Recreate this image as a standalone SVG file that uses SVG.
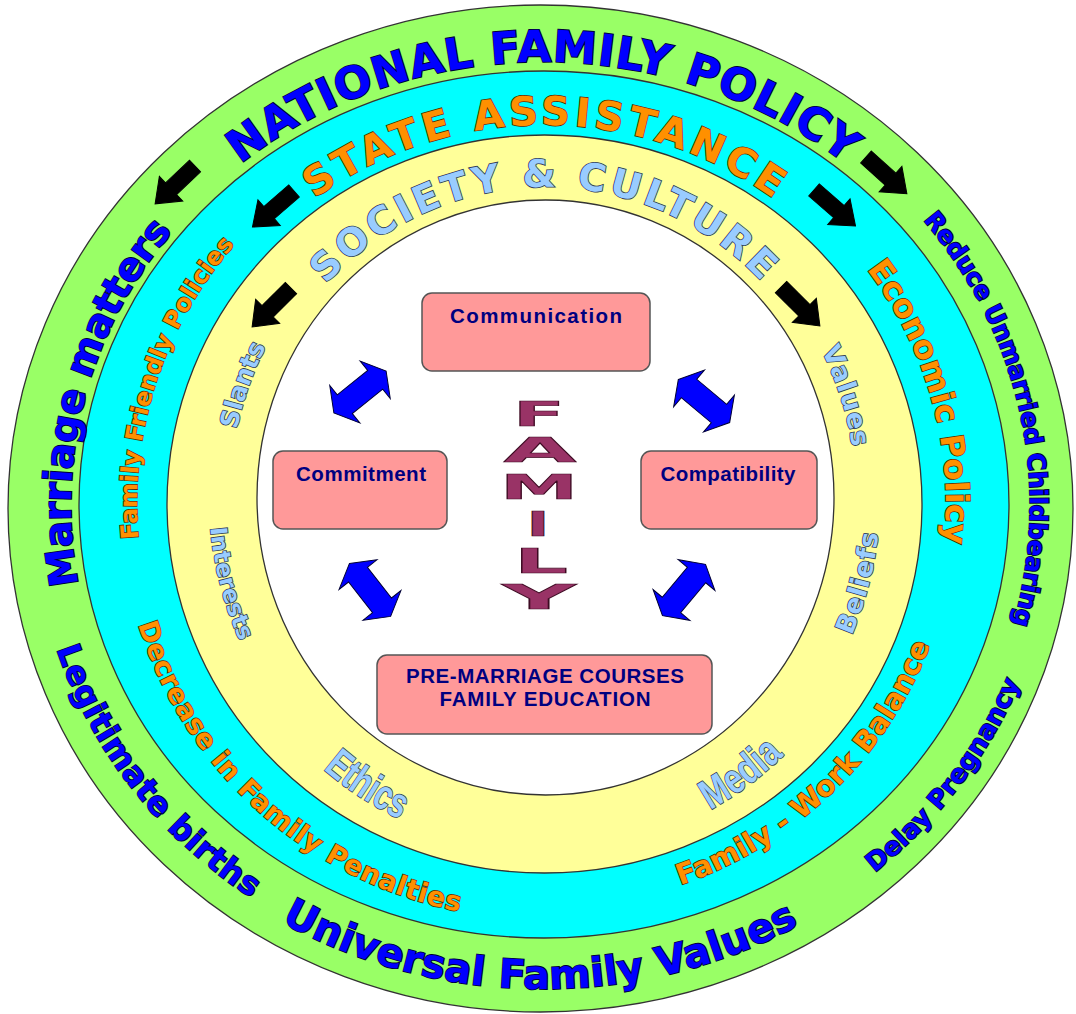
<svg xmlns="http://www.w3.org/2000/svg" xmlns:xlink="http://www.w3.org/1999/xlink" width="1076" height="1014" viewBox="0 0 1076 1014">
<style>
.ring{stroke:#333;stroke-width:1.3}
.t{font-family:"DejaVu Sans",Verdana,sans-serif;font-weight:bold;paint-order:stroke;text-anchor:middle}
.blue{fill:#0000ff;stroke:#000033;stroke-width:1.8}
.orange{fill:#ff9000;stroke:#5a2800;stroke-width:1.5}
.lblue{fill:#99ccff;stroke:#2f3a55;stroke-width:1.6}
.narrow{font-family:"Liberation Sans Narrow","Liberation Sans",Arial,sans-serif}
.box{fill:#ff9999;stroke:#555;stroke-width:1.5}
.bt{font-family:"Liberation Sans",Arial,sans-serif;font-weight:bold;font-size:20.5px;fill:#000080;text-anchor:middle}
.fam{font-family:"DejaVu Sans",Verdana,sans-serif;font-weight:bold;font-size:33px;fill:#993366;stroke:#3d0a22;stroke-width:0.6;text-anchor:middle}
.barrow{fill:#000;stroke:#000;stroke-width:1}
.darrow{fill:#0000ff;stroke:#000033;stroke-width:1}
</style>
<defs>
<path id="pNat" d="M543,948 A474,443 0 0 1 543,62 A474,443 0 0 1 543,948"/>
<path id="pMar" d="M543,946 A472,441 0 0 1 543,64 A472,441 0 0 1 543,946"/>
<path id="pRed" d="M543,961 A487,456 0 0 1 543,49 A487,456 0 0 1 543,961"/>
<path id="pUni" d="M543,21 A515,484 0 0 0 543,989 A515,484 0 0 0 543,21"/>
<path id="pLeg" d="M543,26 A510,479 0 0 0 543,984 A510,479 0 0 0 543,26"/>
<path id="pDel" d="M543,23 A513,482 0 0 0 543,987 A513,482 0 0 0 543,23"/>
<path id="pSta" d="M544,883 A387,379 0 0 1 544,125 A387,379 0 0 1 544,883"/>
<path id="pFfp" d="M544,903 A407,399 0 0 1 544,105 A407,399 0 0 1 544,903"/>
<path id="pEco" d="M544,898 A402,394 0 0 1 544,110 A402,394 0 0 1 544,898"/>
<path id="pFwb" d="M544,100 A412,404 0 0 0 544,908 A412,404 0 0 0 544,100"/>
<path id="pDec" d="M544,88 A424,416 0 0 0 544,920 A424,416 0 0 0 544,88"/>
<path id="pSoc" d="M545,807 A301,310 0 0 1 545,187 A301,310 0 0 1 545,807"/>
<path id="pSla" d="M545,821 A315,324 0 0 1 545,173 A315,324 0 0 1 545,821"/>
<path id="pVal" d="M545,817 A311,320 0 0 1 545,177 A311,320 0 0 1 545,817"/>
<path id="pInt" d="M545,152 A336,345 0 0 0 545,842 A336,345 0 0 0 545,152"/>
<path id="pBel" d="M545,153 A335,344 0 0 0 545,841 A335,344 0 0 0 545,153"/>
<path id="pEth" d="M545,142 A346,355 0 0 0 545,852 A346,355 0 0 0 545,142"/>
<path id="pMed" d="M545,141 A347,356 0 0 0 545,853 A347,356 0 0 0 545,141"/>
<path id="blackArrow" d="M0,-8 L33,-8 L33,-17 L55,0 L33,17 L33,8 L0,8 Z"/>
<path id="dblArrow" d="M-33.5,0 L-19.5,-24 L-19.5,-12 L19.5,-12 L19.5,-24 L33.5,0 L19.5,24 L19.5,12 L-19.5,12 L-19.5,24 Z"/>
</defs>
<rect width="1076" height="1014" fill="#ffffff"/>
<g id="rings">
<ellipse class="ring" cx="540.5" cy="508.5" rx="532.5" ry="503.5" fill="#99ff66"/>
<ellipse class="ring" cx="544" cy="504.5" rx="465" ry="433.5" fill="#00ffff"/>
<ellipse class="ring" cx="544.5" cy="504" rx="377.5" ry="369" fill="#ffff99"/>
<ellipse class="ring" cx="545.5" cy="497.5" rx="288.5" ry="297.5" fill="#ffffff"/>
</g>
<g id="ring-labels">
<text class="t blue" font-size="44"><textPath href="#pNat" xlink:href="#pNat" startOffset="50%" textLength="650">NATIONAL FAMILY POLICY</textPath></text>
<text class="t blue" font-size="39"><textPath href="#pMar" xlink:href="#pMar" startOffset="28.8%" textLength="378">Marriage matters</textPath></text>
<text class="t blue" font-size="24.5"><textPath href="#pRed" xlink:href="#pRed" startOffset="71.8%" textLength="432">Reduce Unmarried Childbearing</textPath></text>
<text class="t blue" font-size="40"><textPath href="#pUni" xlink:href="#pUni" startOffset="49.9%" textLength="540">Universal Family Values</textPath></text>
<text class="t blue" font-size="32"><textPath href="#pLeg" xlink:href="#pLeg" startOffset="34.9%" textLength="322">Legitimate births</textPath></text>
<text class="t blue" font-size="25.5"><textPath href="#pDel" xlink:href="#pDel" startOffset="65.3%" textLength="242">Delay Pregnancy</textPath></text>
<text class="t orange" font-size="40"><textPath href="#pSta" xlink:href="#pSta" startOffset="50%" textLength="490">STATE ASSISTANCE</textPath></text>
<text class="t orange" font-size="24"><textPath href="#pFfp" xlink:href="#pFfp" startOffset="29.9%" textLength="318">Family Friendly Policies</textPath></text>
<text class="t orange" font-size="32"><textPath href="#pEco" xlink:href="#pEco" startOffset="70.75%" textLength="292">Economic Policy</textPath></text>
<text class="t orange" font-size="28.5"><textPath href="#pFwb" xlink:href="#pFwb" startOffset="62.4%" textLength="358">Family - Work Balance</textPath></text>
<text class="t orange" font-size="27"><textPath href="#pDec" xlink:href="#pDec" startOffset="38.2%" textLength="452">Decrease in Family Penalties</textPath></text>
<text class="t lblue" font-size="38"><textPath href="#pSoc" xlink:href="#pSoc" startOffset="49.9%" textLength="490">SOCIETY &amp; CULTURE</textPath></text>
<text class="t lblue" font-size="25"><textPath href="#pSla" xlink:href="#pSla" startOffset="30.6%" textLength="88">Slants</textPath></text>
<text class="t lblue" font-size="26"><textPath href="#pVal" xlink:href="#pVal" startOffset="69.9%" textLength="102">Values</textPath></text>
<text class="t lblue" font-size="23"><textPath href="#pInt" xlink:href="#pInt" startOffset="29.2%" textLength="118">Interests</textPath></text>
<text class="t lblue" font-size="26"><textPath href="#pBel" xlink:href="#pBel" startOffset="70.8%" textLength="106">Beliefs</textPath></text>
<text class="t lblue narrow" font-size="42"><textPath href="#pEth" xlink:href="#pEth" startOffset="41.1%" textLength="92" lengthAdjust="spacingAndGlyphs">Ethics</textPath></text>
<text class="t lblue narrow" font-size="42"><textPath href="#pMed" xlink:href="#pMed" startOffset="59.9%" textLength="92" lengthAdjust="spacingAndGlyphs">Media</textPath></text>
</g>
<g id="connectors">
<use href="#blackArrow" xlink:href="#blackArrow" class="barrow" transform="translate(195,166) rotate(136.5)"/>
<use href="#blackArrow" xlink:href="#blackArrow" class="barrow" transform="translate(294,191) rotate(139)"/>
<use href="#blackArrow" xlink:href="#blackArrow" class="barrow" transform="translate(291,288) rotate(135)"/>
<use href="#blackArrow" xlink:href="#blackArrow" class="barrow" transform="translate(866,157) rotate(42)"/>
<use href="#blackArrow" xlink:href="#blackArrow" class="barrow" transform="translate(814,190) rotate(41)"/>
<use href="#blackArrow" xlink:href="#blackArrow" class="barrow" transform="translate(781,287) rotate(45)"/>
<use href="#dblArrow" xlink:href="#dblArrow" class="darrow" transform="translate(360,392) rotate(-38.8)"/>
<use href="#dblArrow" xlink:href="#dblArrow" class="darrow" transform="translate(704,401) rotate(40)"/>
<use href="#dblArrow" xlink:href="#dblArrow" class="darrow" transform="translate(370,590) rotate(52)"/>
<use href="#dblArrow" xlink:href="#dblArrow" class="darrow" transform="translate(684,590) rotate(-50)"/>
</g>
<g id="node-communication">
<rect class="box" x="422" y="293" width="228" height="78" rx="10"/>
<text class="bt" x="536" y="323" textLength="172">Communication</text>
</g>
<g id="node-commitment">
<rect class="box" x="273" y="451" width="174" height="78" rx="10"/>
<text class="bt" x="361" y="481" textLength="130">Commitment</text>
</g>
<g id="node-compatibility">
<rect class="box" x="641" y="451" width="176" height="78" rx="10"/>
<text class="bt" x="728" y="481" textLength="135">Compatibility</text>
</g>
<g id="node-premarriage">
<rect class="box" x="377" y="655" width="335" height="79" rx="10"/>
<text class="bt" x="545" y="683" textLength="278">PRE-MARRIAGE COURSES</text>
<text class="bt" x="545" y="706" textLength="211">FAMILY EDUCATION</text>
</g>
<g id="node-family">
<text class="fam" transform="translate(539,426) scale(2.3,1)">F</text>
<text class="fam" transform="translate(540,462) scale(2.86,1)">A</text>
<text class="fam" transform="translate(539,499) scale(2.38,1)">M</text>
<text class="fam" transform="translate(538,536) scale(1.87,1)">I</text>
<text class="fam" transform="translate(541,573) scale(2.57,1)">L</text>
<text class="fam" transform="translate(539,609) scale(3.1,1)">Y</text>
</g>
</svg>
